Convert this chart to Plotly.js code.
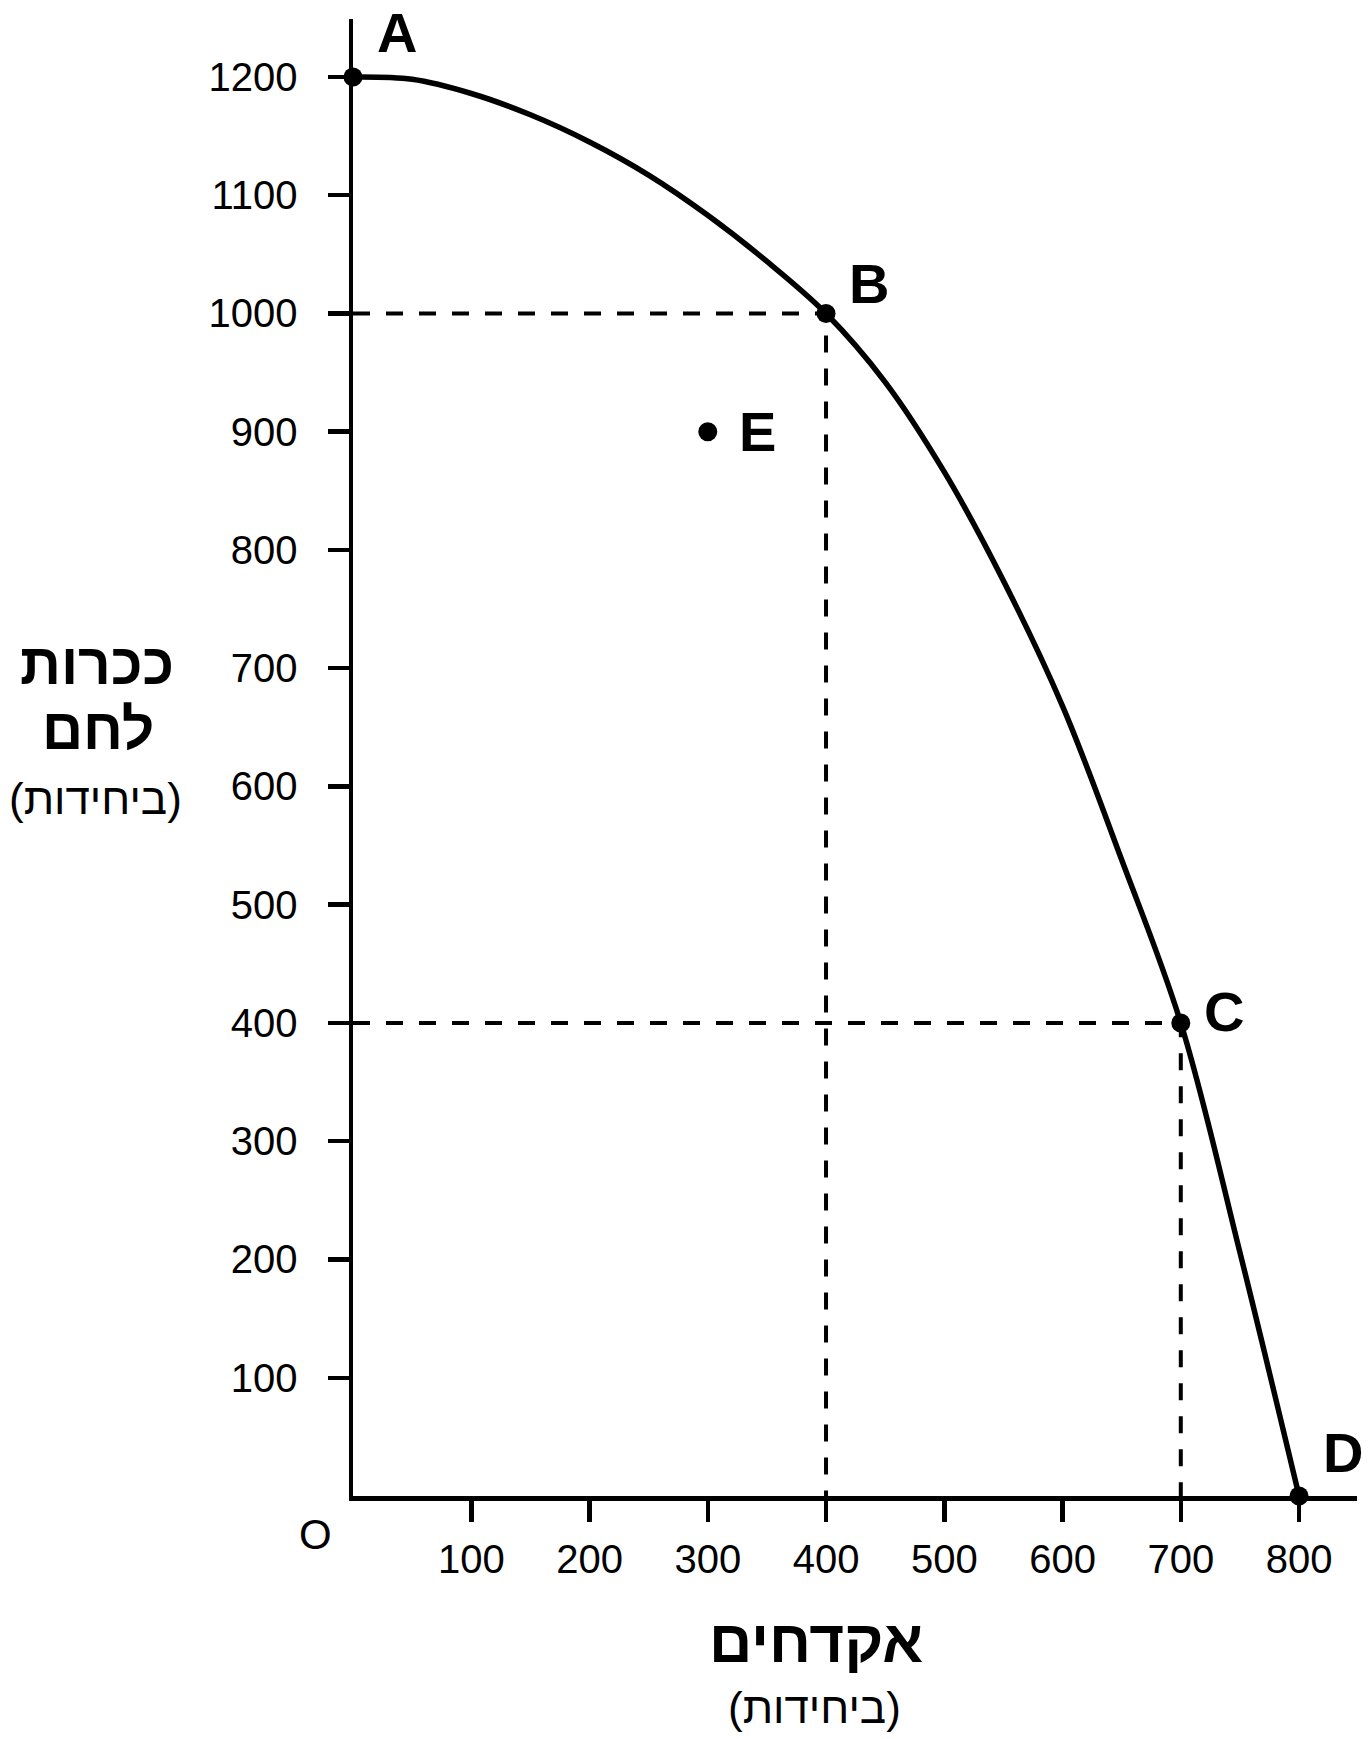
<!DOCTYPE html>
<html>
<head>
<meta charset="utf-8">
<script src="https://cdn.plot.ly/plotly-3.0.1.min.js"></script>
<style>html,body{margin:0;padding:0;background:#fff;}#chart{width:1372px;height:1739px;}</style>
</head>
<body>
<div id="chart"></div>
<script>
// ---- data ----
const curveX = [0, 50, 100, 150, 200, 250, 300, 350, 400, 450, 500, 550, 600, 650, 700, 750, 800];
const curveY = [1200, 1198, 1186, 1168, 1145, 1117, 1083, 1044, 1000, 942, 866, 774, 668, 538, 400, 206, 0];
const pointLabels = ['A', 'B', 'C', 'D', 'E'];
const pointX = [0, 400, 700, 800, 300];
const pointY = [1200, 1000, 400, 0, 900];
const xTicks = [100, 200, 300, 400, 500, 600, 700, 800];
const yTicks = [100, 200, 300, 400, 500, 600, 700, 800, 900, 1000, 1100, 1200];
const yTitle1 = 'ככרות';
const yTitle2 = 'לחם';
const unitsText = '(ביחידות)';
const xTitle = 'אקדחים';
const originLabel = 'O';

// ---- layout geometry ----
const W = 1372, H = 1739;
const M = {l: 353, r: 15, t: 19, b: 243};
const PW = W - M.l - M.r, PH = H - M.t - M.b;
const px2x = p => (p - M.l) / PW;
const px2y = p => (H - M.b - p) / PH;
const FONT = '"Liberation Sans", Arial, Helvetica, sans-serif';

const labelShift = [[44, 44], [43, 30], [43, 11], [44, 44], [50, 0]];

const traces = [
  { // dashed guide B
    x: [0, pointX[1], pointX[1]], y: [pointY[1], pointY[1], 0],
    mode: 'lines', line: {color: '#000', width: 4, dash: '17px,16px'}, hoverinfo: 'skip'
  },
  { // dashed guide C
    x: [0, pointX[2], pointX[2]], y: [pointY[2], pointY[2], 0],
    mode: 'lines', line: {color: '#000', width: 4, dash: '17px,16px'}, hoverinfo: 'skip'
  },
  { // PPF curve
    x: curveX, y: curveY, mode: 'lines',
    line: {color: '#000', width: 5.5, shape: 'spline', smoothing: 1}, cliponaxis: false
  },
  { // points
    x: pointX, y: pointY, mode: 'markers',
    marker: {color: '#000', size: 19}, cliponaxis: false
  }
];

const annotations = pointLabels.map((t, i) => ({
  x: pointX[i], y: pointY[i], xref: 'x', yref: 'y', text: t, showarrow: false,
  xshift: labelShift[i][0], yshift: labelShift[i][1],
  font: {family: FONT, size: 56, color: '#000', weight: 'bold'}
}));

const textAnn = (text, cx, cy, size, bold) => ({
  x: px2x(cx), y: px2y(cy), xref: 'paper', yref: 'paper', text: text, showarrow: false,
  xanchor: 'center', yanchor: 'middle',
  font: {family: FONT, size: size, color: '#000', weight: bold ? 'bold' : 'normal'}
});

annotations.push(textAnn(yTitle1, 97, 664, 57, true));
annotations.push(textAnn(yTitle2, 98, 729, 57, true));
annotations.push(textAnn(unitsText, 95, 798, 44, false));
annotations.push(textAnn(xTitle, 816, 1641, 60, true));
annotations.push(textAnn(unitsText, 814, 1707, 44, false));
annotations.push(textAnn(originLabel, 315, 1534, 42, false));

const axisCommon = {
  showgrid: false, zeroline: false, showline: true, linecolor: '#000', linewidth: 4.5,
  ticks: 'outside', ticklen: 21, tickwidth: 4.5, tickcolor: '#000',
  tickfont: {family: FONT, size: 40, color: '#000'}, fixedrange: true
};

const layout = {
  width: W, height: H, margin: M, showlegend: false,
  paper_bgcolor: '#fff', plot_bgcolor: '#fff',
  xaxis: Object.assign({}, axisCommon, {range: [0, 849], tickvals: xTicks, ticktext: xTicks.map(String), ticklabelstandoff: 3}),
  yaxis: Object.assign({}, axisCommon, {range: [0, 1249], tickvals: yTicks, ticktext: yTicks.map(String), ticklabelstandoff: 22}),
  annotations: annotations
};

Plotly.newPlot('chart', traces, layout, {displayModeBar: false, staticPlot: true});
</script>
</body>
</html>
